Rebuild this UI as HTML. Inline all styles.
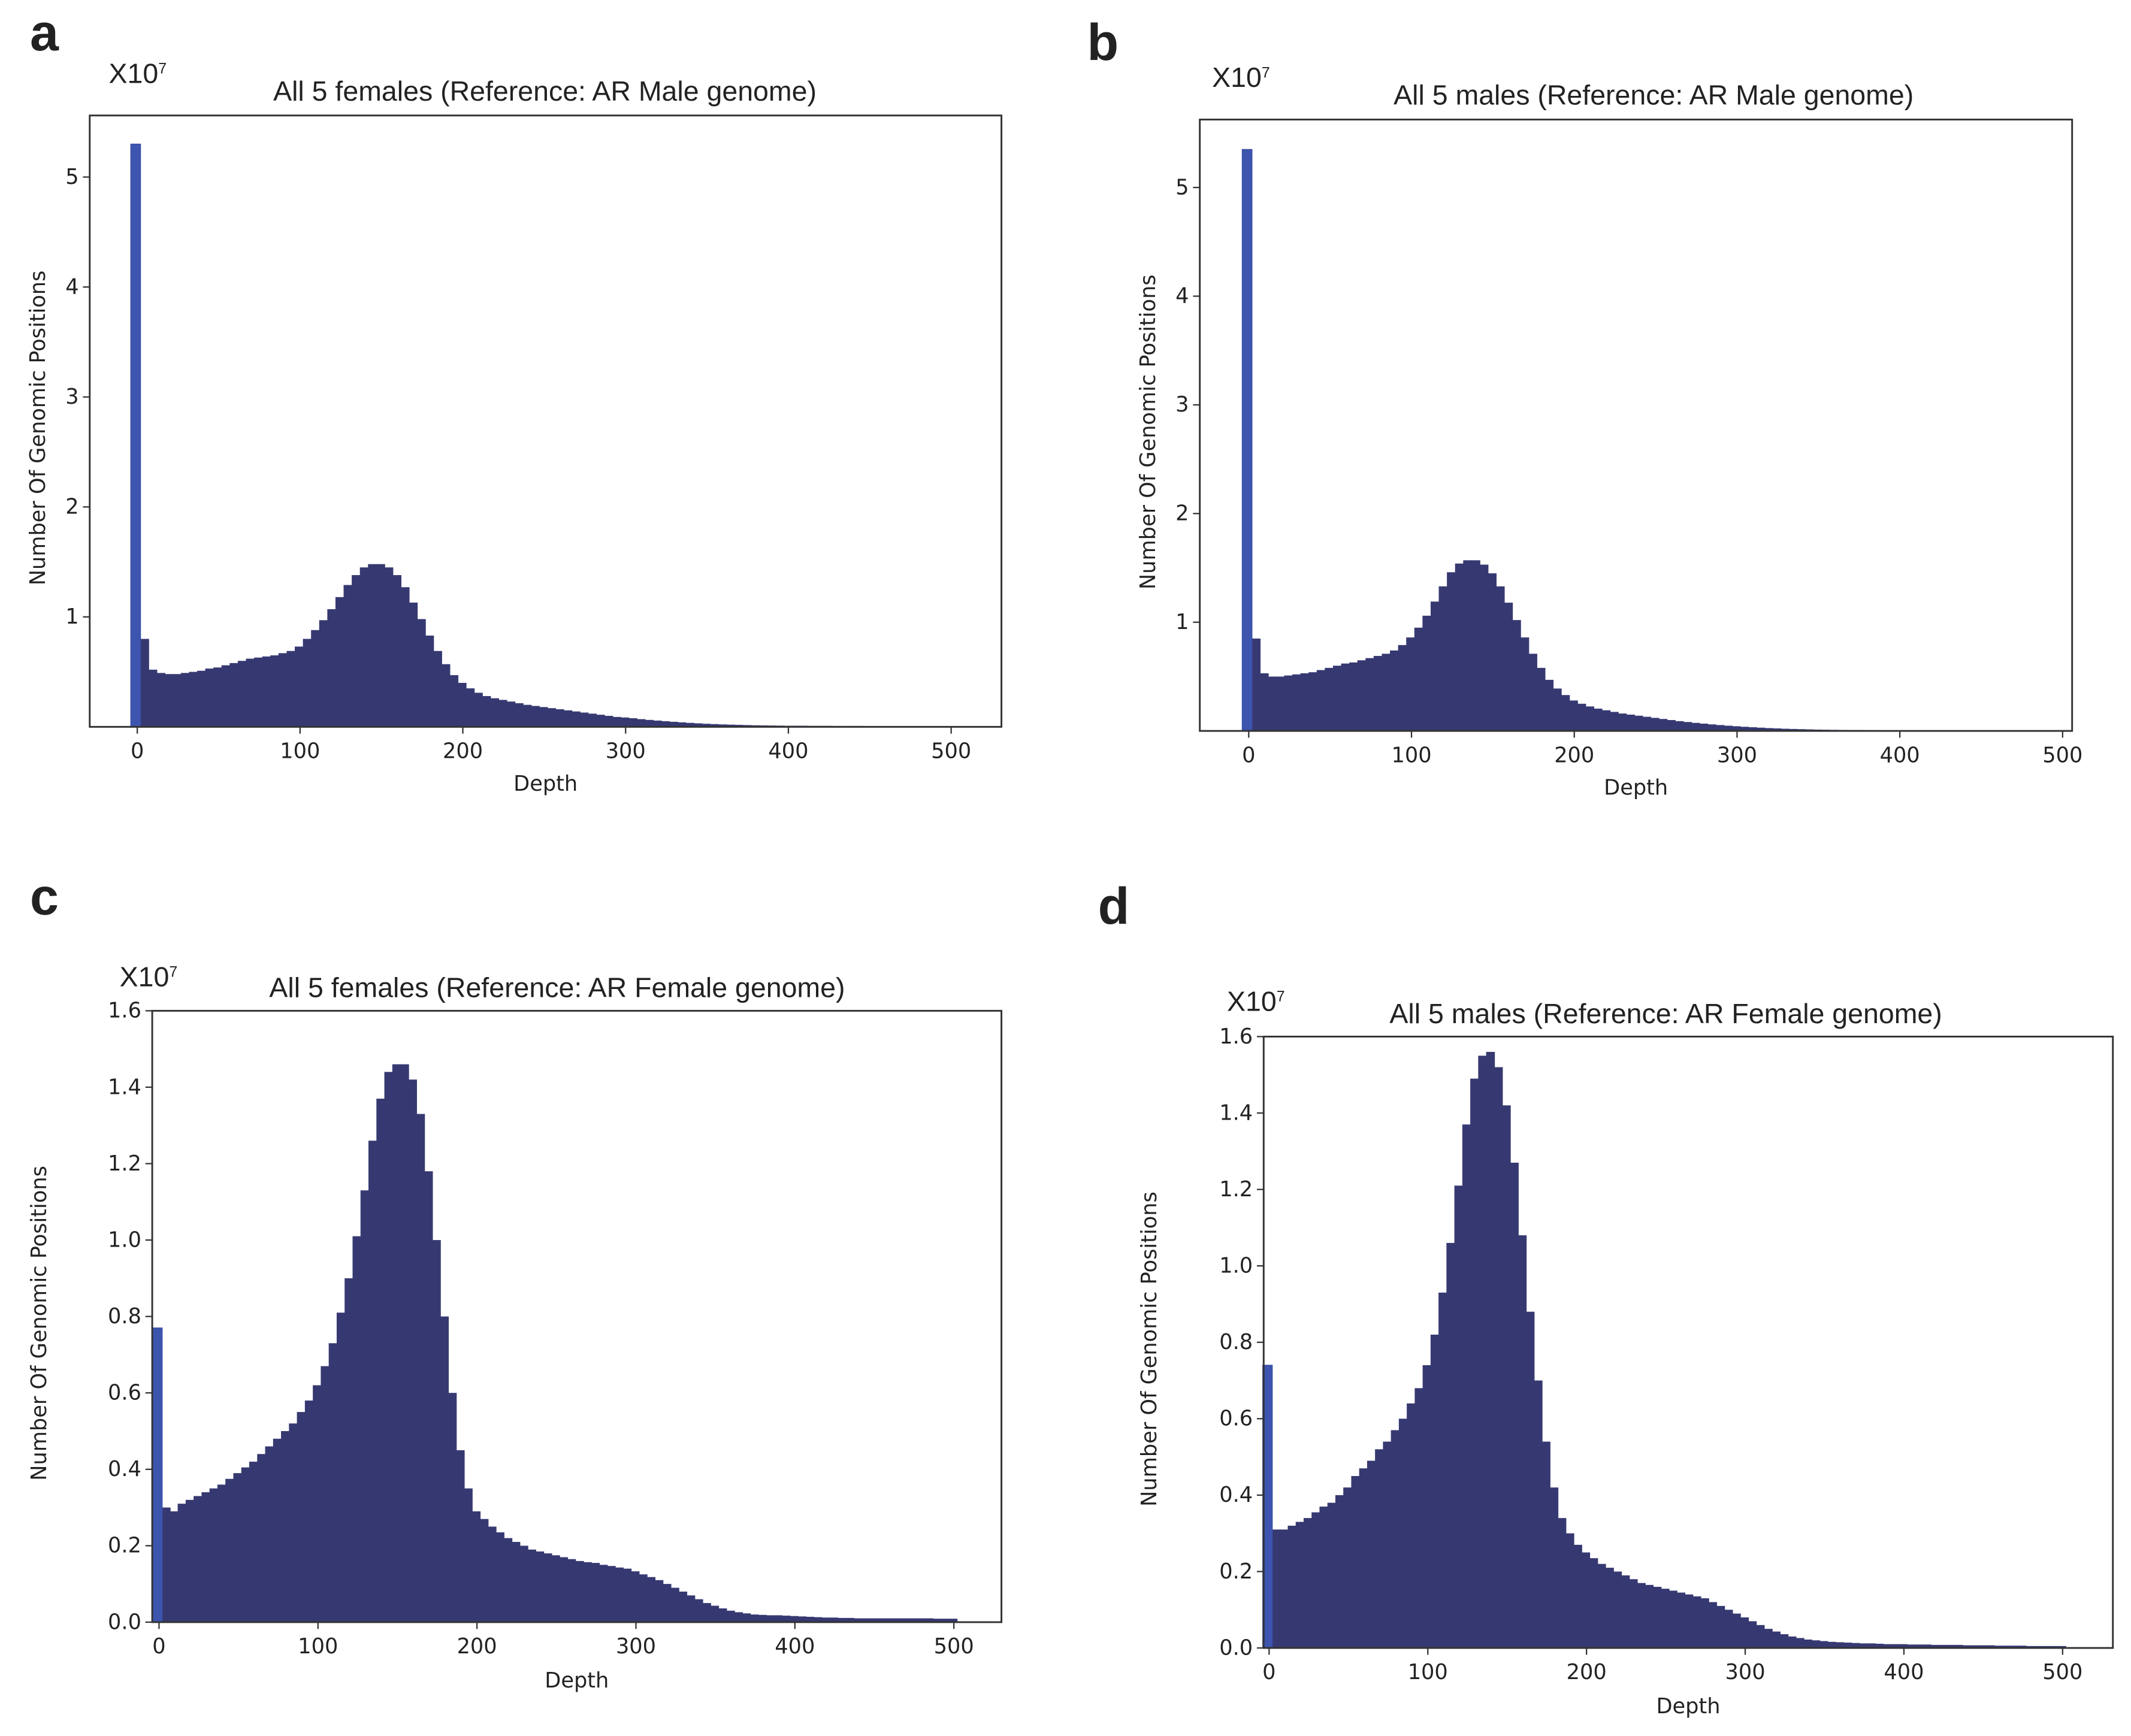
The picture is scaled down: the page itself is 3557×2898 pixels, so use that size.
<!DOCTYPE html>
<html><head><meta charset="utf-8"><style>
html,body{margin:0;padding:0;background:#fff;}
svg{display:block;}
text{fill:#222;}
.tick{font-family:"DejaVu Sans","Liberation Sans",sans-serif;font-size:15.5px;}
.lab{font-family:"DejaVu Sans","Liberation Sans",sans-serif;font-size:15.5px;}
.ttl{font-family:"Liberation Sans",sans-serif;font-size:20.5px;}
.let{font-family:"Liberation Sans",sans-serif;font-size:38px;font-weight:bold;}
</style></head><body>
<svg id="fig" width="3557" height="2898" viewBox="0 0 1568.3 1277.8" xmlns="http://www.w3.org/2000/svg"></svg>
<script>
// Depth bins: spike bin [-4,2), then 5-wide bins starting at 2 (centres 4.5, 9.5, ... 499.5). Values in units of 1e7.
const binStart = 2, binWidth = 5;
const spikeA = 5.3, spikeB = 5.35, spikeC = 0.77, spikeD = 0.74;
const valuesA = [0.8,0.52,0.49,0.48,0.48,0.49,0.5,0.51,0.53,0.54,0.56,0.58,0.6,0.62,0.63,0.64,0.65,0.67,0.69,0.73,0.8,0.88,0.97,1.07,1.18,1.29,1.38,1.45,1.48,1.48,1.45,1.38,1.27,1.13,0.98,0.83,0.69,0.57,0.47,0.4,0.35,0.31,0.28,0.26,0.245,0.23,0.215,0.2,0.19,0.18,0.17,0.16,0.15,0.14,0.13,0.12,0.11,0.1,0.09,0.085,0.078,0.07,0.063,0.057,0.051,0.046,0.041,0.036,0.032,0.028,0.025,0.022,0.02,0.018,0.016,0.014,0.013,0.012,0.011,0.01,0.01,0.01,0.009,0.009,0.009,0.008,0.008,0.008,0.008,0.007,0.007,0.007,0.007,0.006,0.006,0.006,0.006,0.006,0.005,0.005];
const valuesB = [0.85,0.53,0.5,0.5,0.51,0.52,0.53,0.54,0.56,0.58,0.6,0.62,0.63,0.65,0.67,0.69,0.71,0.74,0.79,0.86,0.95,1.06,1.19,1.33,1.46,1.54,1.57,1.57,1.53,1.45,1.33,1.18,1.02,0.86,0.71,0.58,0.47,0.39,0.33,0.28,0.25,0.225,0.205,0.19,0.175,0.16,0.15,0.14,0.13,0.12,0.11,0.1,0.09,0.082,0.074,0.067,0.06,0.054,0.048,0.043,0.038,0.034,0.03,0.026,0.023,0.02,0.018,0.016,0.014,0.012,0.011,0.01,0.009,0.008,0.008,0.007,0.007,0.006,0.006,0.006,0.005,0.005,0.005,0.005,0.005,0.004,0.004,0.004,0.004,0.004,0.004,0.003,0.003,0.003,0.003,0.003,0.003,0.003,0.003,0.003];
const valuesC = [0.3,0.29,0.31,0.32,0.33,0.34,0.35,0.36,0.375,0.39,0.405,0.42,0.44,0.46,0.48,0.5,0.52,0.55,0.58,0.62,0.67,0.73,0.81,0.9,1.01,1.13,1.26,1.37,1.44,1.46,1.46,1.42,1.33,1.18,1.0,0.8,0.6,0.45,0.35,0.29,0.27,0.25,0.235,0.22,0.21,0.2,0.19,0.185,0.18,0.175,0.17,0.165,0.16,0.157,0.155,0.15,0.147,0.143,0.14,0.133,0.125,0.118,0.11,0.1,0.09,0.08,0.07,0.06,0.05,0.043,0.036,0.03,0.026,0.023,0.02,0.019,0.018,0.018,0.017,0.016,0.015,0.014,0.013,0.012,0.012,0.011,0.011,0.01,0.01,0.01,0.01,0.01,0.01,0.01,0.01,0.01,0.01,0.009,0.009,0.009];
const valuesD = [0.31,0.31,0.32,0.33,0.34,0.355,0.37,0.38,0.4,0.42,0.45,0.47,0.49,0.52,0.54,0.57,0.6,0.64,0.68,0.74,0.82,0.93,1.06,1.21,1.37,1.49,1.55,1.56,1.52,1.42,1.27,1.08,0.88,0.7,0.54,0.42,0.34,0.3,0.27,0.25,0.235,0.22,0.21,0.2,0.19,0.18,0.17,0.165,0.16,0.155,0.15,0.145,0.14,0.135,0.13,0.12,0.11,0.1,0.09,0.08,0.07,0.06,0.05,0.043,0.036,0.03,0.026,0.022,0.02,0.018,0.016,0.015,0.014,0.013,0.012,0.012,0.011,0.01,0.01,0.01,0.009,0.009,0.009,0.008,0.008,0.008,0.008,0.007,0.007,0.007,0.007,0.006,0.006,0.006,0.006,0.005,0.005,0.005,0.005,0.005];
const xTicks = [0,100,200,300,400,500];
const yTicksAB = [1,2,3,4,5];
const yTicksCD = [0.0,0.2,0.4,0.6,0.8,1.0,1.2,1.4,1.6];
const titles = ["All 5 females (Reference: AR Male genome)","All 5 males (Reference: AR Male genome)","All 5 females (Reference: AR Female genome)","All 5 males (Reference: AR Female genome)"];
const letters = ["a","b","c","d"];

const NS="http://www.w3.org/2000/svg";
const svg=document.getElementById('fig');
function mk(tag,attrs,parent,txt){const e=document.createElementNS(NS,tag);for(const k in attrs)e.setAttribute(k,attrs[k]);if(txt!==undefined)e.textContent=txt;(parent||svg).appendChild(e);return e;}

const panels=[
 {L:66,R:737,T:85,B:535,x0:101,x500:700,ymax:5.56,yt:yTicksAB,fmt:v=>String(v),spike:spikeA,vals:valuesA,tx:401,ty:74,ex:80,ey:61,lx:22,ly:37,dy:582,yl:28},
 {L:883,R:1525,T:88,B:538,x0:919,x500:1518,ymax:5.625,yt:yTicksAB,fmt:v=>String(v),spike:spikeB,vals:valuesB,tx:1217,ty:77,ex:892,ey:64,lx:800,ly:44,dy:585,yl:845},
 {L:112,R:737,T:744,B:1194,x0:117,x500:702,ymax:1.6,yt:yTicksCD,fmt:v=>v.toFixed(1),spike:spikeC,vals:valuesC,tx:410,ty:734,ex:88,ey:726,lx:22,ly:673,dy:1242,yl:29},
 {L:930,R:1555,T:763,B:1213,x0:934,x500:1518,ymax:1.6,yt:yTicksCD,fmt:v=>v.toFixed(1),spike:spikeD,vals:valuesD,tx:1226,ty:753,ex:903,ey:744,lx:808,ly:680,dy:1261,yl:846}
];
panels.forEach((p,pi)=>{
 const g=mk('g',{});
 
 
 const xs=d=>p.x0+(p.x500-p.x0)*d/500;
 const ys=v=>p.B-(p.B-p.T)*v/p.ymax;
 const bars=mk('g',{},g);
 
 
 p.vals.forEach((v,i)=>{
  const d0=binStart+i*binWidth;
  const r=mk('rect',{x:xs(d0)-0.3,y:ys(v),width:xs(d0+binWidth)-xs(d0)+0.6,height:Math.max(0,p.B-ys(v)),fill:'#363971',stroke:'none'},bars);
  
  
 });
 const sp=mk('rect',{x:xs(-4),y:ys(p.spike),width:xs(2)-xs(-4),height:p.B-ys(p.spike),fill:'#3d55ae',stroke:'#3a4fa6','stroke-width':0.6},bars);
 
 
 const fr=mk('rect',{x:p.L,y:p.T,width:p.R-p.L,height:p.B-p.T,fill:'none',stroke:'#333','stroke-width':1.3},g);
 
 
 xTicks.forEach(t=>{
  const x=xs(t);
  mk('line',{x1:x,y1:p.B,x2:x,y2:p.B+5,stroke:'#333','stroke-width':1},g);
  const tl=mk('text',{x:x,y:p.B+23,'text-anchor':'middle',class:'tick'},g,String(t));
  
  
 });
 p.yt.forEach(t=>{
  const y=ys(t);
  mk('line',{x1:p.L-5,y1:y,x2:p.L,y2:y,stroke:'#333','stroke-width':1},g);
  const tl=mk('text',{x:p.L-8,y:y+5,'text-anchor':'end',class:'tick'},g,p.fmt(t));
  
  
 });
 const tt=mk('text',{x:p.tx,y:p.ty,'text-anchor':'middle',class:'ttl'},g,titles[pi]);
 
 
 const ex=mk('text',{x:p.ex,y:p.ey,class:'ttl','font-size':'17'},g);
 
 
 ex.innerHTML='X10<tspan dy="-7" font-size="11">7</tspan>';
 const dl=mk('text',{x:(p.L+p.R)/2,y:p.dy,'text-anchor':'middle',class:'lab'},g,'Depth');
 
 
 const cy=(p.T+p.B)/2;
 const yl=mk('text',{x:p.yl,y:cy,'text-anchor':'middle',class:'lab',transform:'rotate(-90 '+(p.yl+5)+' '+cy+')'},g,'Number Of Genomic Positions');
 
 
 const lt=mk('text',{x:p.lx,y:p.ly,class:'let'},g,letters[pi]);
 
 
});
</script>
</body></html>
